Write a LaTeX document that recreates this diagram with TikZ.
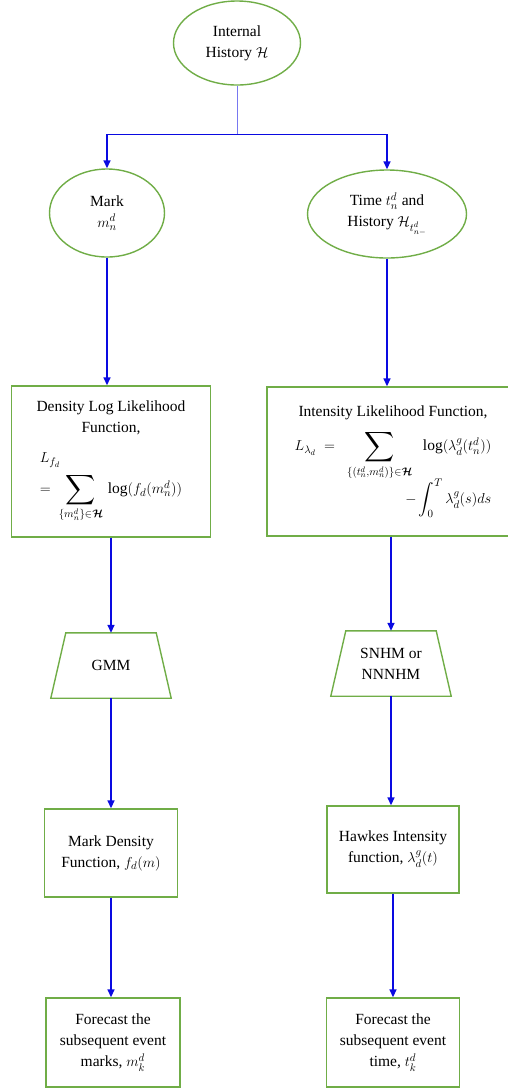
\documentclass[tikz,border=0pt]{standalone}
\usepackage{amsmath,amssymb}
\usepackage{fontspec}
\setmainfont{Liberation Serif}
\usetikzlibrary{shapes.geometric,arrows.meta}
\definecolor{boxgreen}{RGB}{112,173,71}
\definecolor{flowblue}{RGB}{10,10,225}
\definecolor{trunkblue}{RGB}{120,120,240}
\newcommand{\largesum}{\mathop{\vcenter{\hbox{\scalebox{1.35}{$\displaystyle\sum$}}}}\limits}

\begin{document}
\begin{tikzpicture}[x=1pt,y=-1pt,
  font=\fontsize{15.5}{21}\selectfont,
  oval/.style={ellipse,draw=boxgreen,line width=1.4pt,inner sep=0pt,align=center},
  box/.style={rectangle,draw=boxgreen,line width=1.4pt,inner sep=0pt,align=center},
  trap/.style={rectangle,inner sep=0pt,align=center,minimum width=120pt,minimum height=65pt},
  edge/.style={draw=boxgreen,line width=1.4pt,line join=miter},
  flow/.style={draw=flowblue,line width=1.6pt,-{Triangle[length=8pt,width=7pt]}}]
\useasboundingbox (0,0) rectangle (507,1088);
\coordinate (split) at (237,134);
% top of the chart
\node[oval,minimum width=127pt,minimum height=84pt] (hist) at (237,43) {Internal\\History $\mathcal{H}$};
\node[oval,minimum width=115pt,minimum height=88pt] (mark) at (107,213) {Mark\\$m_n^d$};
\node[oval,minimum width=159pt,minimum height=88pt] (time) at (387,214) {Time $t_n^d$ and\\History $\mathcal{H}_{t_{n-}^d}$};
% likelihood boxes
\node[box,minimum width=199pt,minimum height=151pt] (dens) at (111,461.5) {Density Log Likelihood\\Function,\\[12pt]
  \begin{tabular}{@{}l@{}}$L_{f_d}$\\[4pt]
  $=\;\largesum_{\{m_n^d\}\in\boldsymbol{\mathcal{H}}}\,\log(f_d(m_n^d))$\end{tabular}};
\node[box,minimum width=252pt,minimum height=149pt] (inten) at (393,461.5) {Intensity Likelihood Function,\\[10pt]
  \begin{tabular}{@{}r@{}}$L_{\lambda_d}\;=\;\;\largesum_{\{(t_n^d,m_n^d)\}\in\boldsymbol{\mathcal{H}}}\;\;\log(\lambda_d^g(t_n^d))$\\[12pt]
  $\displaystyle-\int_0^T\lambda_d^g(s)ds$\hspace{12pt}\end{tabular}};
% models
\node[trap] (gmm) at (111,665.5) {GMM};
\node[trap] (snhm) at (391,663.5) {SNHM or\\NNNHM};
\foreach \m in {gmm,snhm}
  \draw[edge] ([xshift=15pt]\m.north west) -- ([xshift=-15pt]\m.north east)
    -- (\m.south east) -- (\m.south west) -- cycle;
% functions
\node[box,minimum width=133pt,minimum height=88pt] (mdf) at (111,853) {Mark Density\\Function, $f_d(m)$};
\node[box,minimum width=132pt,minimum height=87pt] (hawk) at (393,849.5) {Hawkes Intensity\\function, $\lambda_d^g(t)$};
% forecasts
\node[box,minimum width=134pt,minimum height=89pt] (fcl) at (113,1042.5) {Forecast the\\subsequent event\\marks, $m_k^d$};
\node[box,minimum width=133pt,minimum height=89pt] (fcr) at (393,1042.5) {Forecast the\\subsequent event\\time, $t_k^d$};
% connectors
\draw[trunkblue,line width=1pt] (hist.south) -- (split);
\draw[flowblue,line width=1pt] (mark.north |- split) -- (time.north |- split);
\draw[flow] (mark.north |- split) -- (mark.north);
\draw[flow] (time.north |- split) -- (time.north);
\draw[flow] (mark.south) -- (mark.south |- dens.north);
\draw[flow] (time.south) -- (time.south |- inten.north);
\draw[flow] (dens.south) -- (dens.south |- gmm.north);
\draw[flow] (snhm.north |- inten.south) -- (snhm.north);
\draw[flow] (gmm.south) -- (gmm.south |- mdf.north);
\draw[flow] (snhm.south) -- (snhm.south |- hawk.north);
\draw[flow] (mdf.south) -- (mdf.south |- fcl.north);
\draw[flow] (hawk.south) -- (hawk.south |- fcr.north);
\end{tikzpicture}
\end{document}
